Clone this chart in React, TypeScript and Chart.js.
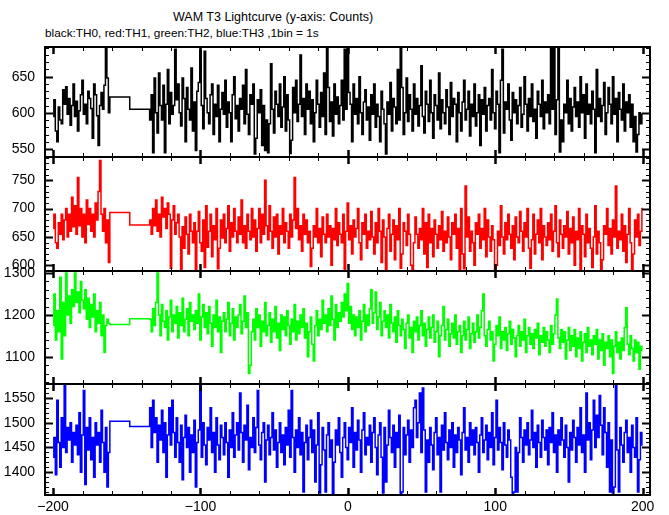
import React, { useEffect, useRef } from 'react';
import { Chart, registerables } from 'chart.js';
Chart.register(...registerables);

// time grid (1 bin = 1 s)
const earlyStart = -200;
const lateStart = -134;
const gapTimes = [-161, -135];
const xTickValues = [-200, -100, 0, 100, 200];

// TH0 (black)
const th0Early = [
  595, 618, 575, 560, 608, 590, 585, 632, 612, 636,
  598, 620, 583, 610, 640, 595, 616, 575, 603, 625,
  645, 598, 612, 585, 630, 620, 606, 565, 640, 625,
  596, 555, 610, 628, 605, 638, 690, 648, 600,
];
const th0Gap = [622, 605];
const th0Late = [
  590, 625, 545, 648, 600, 572, 655, 610, 590, 638,
  545, 612, 660, 585, 628, 598, 610, 688, 618, 640,
  600, 582, 648, 620, 560, 635, 605, 590, 662, 575,
  615, 548, 630, 642, 686, 610, 578, 685, 620, 600,
  585, 625, 640, 570, 612, 595, 638, 560, 605, 628,
  598, 645, 580, 615, 600, 560, 625, 650, 592, 610,
  575, 620, 605, 638, 585, 660, 598, 570, 625, 612,
  640, 543, 565, 618, 600, 632, 555, 610, 548, 590,
  545, 585, 668, 605, 572, 630, 612, 595, 640, 580,
  608, 650, 575, 625, 590, 544, 562, 635, 600, 645,
  588, 612, 680, 595, 620, 570, 640, 605, 630, 585,
  618, 560, 600, 645, 612, 580, 628, 595, 655, 570,
  690, 635, 588, 615, 568, 640, 598, 622, 585, 610,
  645, 590, 688, 605, 692, 628, 612, 560, 640, 598,
  620, 585, 650, 600, 570, 615, 632, 590, 608, 562,
  625, 598, 640, 580, 612, 595, 560, 630, 605, 585,
  543, 615, 598, 642, 575, 620, 608, 585, 660, 590,
  689, 635, 570, 600, 648, 588, 625, 605, 575, 640,
  598, 620, 582, 610, 665, 595, 572, 630, 612, 588,
  645, 600, 565, 625, 610, 590, 655, 578, 618, 600,
  585, 632, 608, 570, 642, 595, 620, 612, 560, 628,
  600, 575, 615, 645, 590, 605, 630, 568, 612, 595,
  640, 582, 600, 625, 555, 618, 598, 635, 575, 610,
  620, 590, 660, 600, 578, 630, 612, 545, 645, 688,
  572, 615, 605, 640, 590, 562, 628, 600, 618, 585,
  610, 635, 580, 598, 650, 612, 575, 620, 595, 640,
  588, 605, 565, 630, 612, 595, 645, 578, 615, 600,
  625, 585, 690, 605, 690, 570, 618, 692, 546, 590,
  560, 612, 600, 645, 585, 620, 575, 608, 635, 595,
  615, 580, 650, 600, 625, 565, 640, 598, 612, 585,
  630, 605, 545, 660, 595, 620, 588, 610, 642, 570,
  600, 635, 612, 585, 650, 598, 620, 560, 628, 605,
  590, 640, 575, 615, 600, 625, 580, 612, 560, 595,
  546, 570, 600, 585, 598,
];
const th0Ticks = [550, 600, 650];

// TH1 (red)
const th1Early = [
  665, 690, 640, 630, 675, 655, 690, 645, 680, 700,
  650, 690, 660, 720, 668, 705, 655, 755, 670, 700,
  650, 690, 640, 715, 672, 700, 660, 690, 650, 710,
  680, 730, 785, 690, 660, 700, 640, 680, 605,
];
const th1Gap = [693, 671];
const th1Late = [
  680, 655, 700, 670, 715, 660, 690, 650, 720, 685,
  700, 665, 710, 690, 595, 680, 705, 655, 675, 690,
  650, 592, 668, 630, 685, 655, 620, 690, 660, 640,
  675, 593, 660, 695, 640, 625, 680, 596, 705, 632,
  660, 690, 615, 670, 645, 700, 594, 630, 680, 648,
  690, 640, 665, 705, 625, 675, 650, 700, 660, 640,
  685, 655, 715, 640, 670, 630, 690, 660, 645, 700,
  650, 680, 625, 665, 700, 640, 690, 655, 750, 670,
  645, 705, 660, 630, 685, 650, 690, 620, 670, 655,
  700, 640, 675, 660, 630, 690, 650, 680, 755, 665,
  700, 645, 670, 625, 690, 655, 680, 640, 660, 598,
  630, 670, 650, 700, 640, 665, 615, 685, 655, 640,
  690, 650, 670, 600, 665, 645, 700, 635, 675, 655,
  640, 690, 592, 660, 710, 645, 670, 620, 680, 650,
  665, 700, 640, 610, 675, 655, 690, 630, 660, 645,
  695, 650, 620, 675, 640, 700, 660, 605, 680, 650,
  593, 665, 690, 625, 655, 680, 610, 670, 645, 700,
  595, 620, 675, 660, 635, 690, 655, 600, 592, 640,
  685, 655, 630, 665, 645, 700, 620, 675, 596, 690,
  640, 665, 615, 680, 655, 630, 670, 645, 695, 625,
  660, 640, 685, 650, 610, 675, 655, 690, 630, 665,
  592, 700, 620, 594, 740, 650, 685, 625, 660, 640,
  600, 675, 655, 690, 630, 665, 645, 700, 615, 680,
  650, 625, 670, 645, 593, 600, 660, 635, 705, 650,
  620, 675, 645, 690, 655, 630, 670, 610, 685, 650,
  640, 695, 660, 625, 675, 650, 700, 630, 595, 645,
  690, 620, 655, 680, 640, 700, 610, 670, 650, 635,
  675, 645, 690, 625, 660, 705, 640, 615, 680, 655,
  630, 670, 650, 695, 620, 665, 640, 685, 600, 660,
  645, 700, 592, 670, 655, 615, 690, 640, 665, 630,
  596, 650, 705, 620, 660, 640, 593, 610, 670, 655,
  700, 635, 665, 620, 680, 650, 740, 630, 660, 645,
  690, 625, 670, 605, 655, 700, 640, 592, 620, 680,
  650, 690, 635, 660, 700,
];
const th1Ticks = [600, 650, 700, 750];

// TH2 (green)
const th2Early = [
  1175, 1250, 1140, 1210, 1160, 1290, 1095, 1230, 1150, 1300,
  1200, 1245, 1180, 1260, 1220, 1300, 1230, 1255, 1205, 1280,
  1235, 1215, 1260, 1190, 1240, 1170, 1225, 1195, 1250, 1160,
  1210, 1180, 1230, 1150, 1200, 1110, 1175, 1190, 1180,
];
const th2Gap = [1177, 1191];
const th2Late = [
  1190, 1160, 1215, 1175, 1230, 1300, 1200, 1150, 1225, 1185,
  1170, 1210, 1140, 1195, 1235, 1160, 1200, 1180, 1220, 1145,
  1205, 1175, 1240, 1160, 1190, 1215, 1150, 1230, 1185, 1200,
  1165, 1210, 1180, 1250, 1140, 1195, 1225, 1170, 1205, 1155,
  1220, 1180, 1125, 1200, 1170, 1235, 1160, 1195, 1110, 1185,
  1205, 1160, 1190, 1230, 1150, 1180, 1215, 1140, 1195, 1170,
  1200, 1225, 1155, 1185, 1245, 1170, 1205, 1060, 1080, 1160,
  1190, 1140, 1215, 1170, 1200, 1125, 1185, 1160, 1230, 1150,
  1175, 1205, 1135, 1190, 1160, 1220, 1145, 1180, 1115, 1200,
  1165, 1195, 1150, 1210, 1175, 1130, 1190, 1160, 1225, 1140,
  1185, 1155, 1200, 1170, 1215, 1145, 1180, 1100, 1160, 1195,
  1130, 1090, 1175, 1210, 1150, 1190, 1165, 1235, 1180, 1200,
  1160, 1215, 1175, 1245, 1190, 1140, 1225, 1170, 1205, 1185,
  1230, 1195, 1250, 1210, 1275, 1180, 1220, 1165, 1200, 1150,
  1195, 1170, 1210, 1140, 1185, 1225, 1160, 1200, 1175, 1215,
  1260, 1180, 1205, 1255, 1165, 1195, 1230, 1150, 1185, 1210,
  1170, 1200, 1145, 1225, 1180, 1160, 1195, 1135, 1210, 1175,
  1150, 1190, 1165, 1120, 1180, 1200, 1145, 1170, 1110, 1185,
  1160, 1195, 1140, 1175, 1210, 1150, 1180, 1125, 1165, 1195,
  1145, 1170, 1200, 1135, 1160, 1185, 1100, 1150, 1175, 1220,
  1140, 1165, 1190, 1125, 1155, 1180, 1145, 1200, 1130, 1160,
  1175, 1110, 1150, 1185, 1140, 1165, 1195, 1120, 1155, 1180,
  1135, 1160, 1200, 1145, 1170, 1210, 1250, 1150, 1125, 1165,
  1185, 1140, 1160, 1090, 1130, 1175, 1150, 1195, 1120, 1160,
  1140, 1170, 1115, 1155, 1185, 1130, 1165, 1145, 1100, 1150,
  1175, 1125, 1160, 1140, 1190, 1110, 1150, 1170, 1130, 1155,
  1120, 1165, 1145, 1180, 1105, 1150, 1135, 1170, 1125, 1160,
  1140, 1110, 1175, 1130, 1155, 1200, 1238, 1145, 1120, 1165,
  1135, 1160, 1095, 1140, 1170, 1115, 1150, 1125, 1165, 1100,
  1145, 1120, 1160, 1090, 1135, 1155, 1110, 1170, 1125, 1140,
  1105, 1150, 1130, 1165, 1095, 1140, 1115, 1155, 1080, 1135,
  1120, 1150, 1100, 1140, 1060, 1125, 1160, 1110, 1135, 1095,
  1145, 1115, 1170, 1217, 1130, 1105, 1150, 1120, 1090, 1140,
  1110, 1135, 1070, 1125, 1115,
];
const th2Ticks = [1100, 1200, 1300];

// TH3 (blue)
const th3Early = [
  1430, 1470, 1395, 1545, 1460, 1410, 1510, 1450, 1575, 1440,
  1490, 1465, 1500, 1420, 1480, 1455, 1495, 1435, 1520, 1400,
  1475, 1565, 1375, 1490, 1445, 1510, 1425, 1470, 1390, 1500,
  1455, 1480, 1420, 1525, 1460, 1400, 1490, 1370, 1440,
];
const th3Gap = [1503, 1492];
const th3Late = [
  1530, 1450, 1545, 1480, 1510, 1420, 1495, 1465, 1525, 1440,
  1500, 1390, 1475, 1530, 1455, 1545, 1480, 1430, 1510, 1460,
  1420, 1495, 1385, 1470, 1515, 1450, 1490, 1400, 1475, 1440,
  1505, 1370, 1460, 1485, 1575, 1430, 1500, 1455, 1415, 1490,
  1465, 1530, 1440, 1480, 1400, 1510, 1455, 1425, 1495, 1470,
  1435, 1500, 1460, 1390, 1485, 1450, 1520, 1430, 1475, 1500,
  1445, 1560, 1480, 1420, 1495, 1465, 1535, 1405, 1470, 1450,
  1510, 1440, 1490, 1565, 1455, 1425, 1480, 1500, 1380, 1465,
  1495, 1435, 1470, 1520, 1445, 1485, 1410, 1460, 1500, 1440,
  1475, 1415, 1490, 1455, 1525, 1430, 1565, 1470, 1400, 1485,
  1450, 1510, 1435, 1480, 1360, 1460, 1495, 1425, 1470, 1505,
  1440, 1485, 1380, 1455, 1520, 1358, 1415, 1490, 1445, 1360,
  1475, 1500, 1430, 1465, 1356, 1420, 1485, 1455, 1510, 1440,
  1390, 1470, 1500, 1450, 1425, 1490, 1460, 1530, 1410, 1480,
  1445, 1505, 1465, 1400, 1485, 1520, 1435, 1470, 1455, 1495,
  1420, 1480, 1510, 1450, 1395, 1475, 1500, 1430, 1358, 1490,
  1380, 1455, 1525, 1470, 1440, 1495, 1410, 1480, 1450, 1515,
  1356, 1360, 1490, 1435, 1475, 1505, 1420, 1485, 1450, 1530,
  1545, 1470, 1500, 1560, 1440, 1570, 1485, 1360, 1465, 1420,
  1490, 1455, 1405, 1480, 1510, 1435, 1470, 1360, 1495, 1445,
  1520, 1460, 1425, 1485, 1450, 1500, 1410, 1475, 1440, 1490,
  1465, 1395, 1480, 1530, 1445, 1470, 1420, 1500, 1455, 1485,
  1435, 1490, 1460, 1400, 1475, 1510, 1440, 1465, 1495, 1425,
  1480, 1450, 1520, 1415, 1470, 1545, 1445, 1490, 1460, 1405,
  1500, 1455, 1430, 1485, 1465, 1390, 1356, 1360, 1450, 1360,
  1440, 1510, 1470, 1420, 1485, 1455, 1500, 1435, 1465, 1525,
  1450, 1480, 1410, 1495, 1460, 1430, 1505, 1470, 1445, 1485,
  1415, 1490, 1460, 1520, 1440, 1475, 1400, 1485, 1455, 1510,
  1465, 1430, 1495, 1450, 1380, 1480, 1445, 1505, 1470, 1420,
  1490, 1455, 1530, 1440, 1475, 1400, 1560, 1465, 1500, 1425,
  1485, 1545, 1450, 1515, 1470, 1555, 1495, 1435, 1530, 1480,
  1410, 1500, 1360, 1465, 1358, 1370, 1575, 1445, 1360, 1490,
  1455, 1420, 1480, 1505, 1440, 1470, 1400, 1495, 1450, 1430,
  1510, 1360, 1425, 1480, 1455,
];
const th3Ticks = [1400, 1450, 1500, 1550];

const FONT = "'Liberation Sans', Arial, Helvetica, sans-serif";

const panels = [
  { color: '#000000', early: th0Early, gap: th0Gap, late: th0Late, ticks: th0Ticks, min: 539, max: 691, minor: 10, top: 47, bottom: 157 },
  { color: '#ff0000', early: th1Early, gap: th1Gap, late: th1Late, ticks: th1Ticks, min: 590, max: 791, minor: 10, top: 157, bottom: 271 },
  { color: '#00ff00', early: th2Early, gap: th2Gap, late: th2Late, ticks: th2Ticks, min: 1035, max: 1305, minor: 20, top: 271, bottom: 384 },
  { color: '#0000ff', early: th3Early, gap: th3Gap, late: th3Late, ticks: th3Ticks, min: 1354, max: 1578, minor: 10, top: 384, bottom: 495 },
];

const PAD = 12;
const X_AXIS_H = 22;

function framePlugin(minor: number) {
  return {
    id: 'frame',
    afterDraw(chart: any) {
      const { ctx, chartArea: a } = chart;
      const x = chart.scales.x;
      const y = chart.scales.y;
      ctx.save();
      ctx.strokeStyle = '#000';
      const seg = (x1: number, y1: number, x2: number, y2: number, w: number) => {
        ctx.lineWidth = w;
        ctx.beginPath();
        ctx.moveTo(x1, y1);
        ctx.lineTo(x2, y2);
        ctx.stroke();
      };
      for (let v = -200; v <= 200; v += 20) {
        const p = Math.round(x.getPixelForValue(v)) + 0.5;
        const maj = v % 100 === 0;
        const len = maj ? 7 : 4;
        const w = maj ? 2.5 : 1;
        seg(p, a.top, p, a.top + len, w);
        seg(p, a.bottom, p, a.bottom - len, w);
      }
      const start = Math.ceil(y.min / minor) * minor;
      for (let v = start; v <= y.max; v += minor) {
        const p = Math.round(y.getPixelForValue(v)) + 0.5;
        const maj = y.ticks.some((t: any) => t.value === v);
        const len = maj ? 8 : 4;
        const w = maj ? 2 : 1;
        seg(a.left, p, a.left + len, p, w);
        seg(a.right, p, a.right - len, p, w);
      }
      ctx.lineWidth = 2;
      ctx.strokeRect(a.left, a.top, a.right - a.left, a.bottom - a.top);
      ctx.restore();
    },
  };
}

function fmt(v: number) {
  return v < 0 ? '\u2212' + Math.abs(v) : String(v);
}

export default function App() {
  const refs = useRef<(HTMLCanvasElement | null)[]>([]);

  useEffect(() => {
    document.body.style.margin = '0';
    const charts: Chart[] = [];
    panels.forEach((p, i) => {
      const canvas = refs.current[i];
      if (!canvas) return;
      const last = i === panels.length - 1;
      const pts = [
        ...p.early.map((v, k) => ({ x: earlyStart + k, y: v })),
        ...p.gap.map((v, k) => ({ x: gapTimes[k], y: v })),
        ...p.late.map((v, k) => ({ x: lateStart + k, y: v })),
      ];
      const xScale: any = {
        type: 'linear',
        min: -205.5,
        max: 205,
        display: last,
        grid: { display: false, drawTicks: false },
        border: { display: false },
        ticks: {
          padding: 4,
          color: '#000',
          font: { family: FONT, size: 14 },
          maxRotation: 0,
          autoSkip: false,
          callback: (v: any) => fmt(Number(v)),
        },
        afterBuildTicks: (s: any) => {
          s.ticks = xTickValues.map((v) => ({ value: v }));
        },
        afterFit: (s: any) => {
          if (last) s.height = X_AXIS_H;
          s.paddingLeft = 0;
          s.paddingRight = 0;
          s.paddingTop = 0;
          s.paddingBottom = 0;
        },
      };
      const chart = new Chart(canvas, {
        type: 'line',
        data: {
          datasets: [
            {
              data: pts,
              borderColor: p.color,
              borderWidth: 1.5,
              pointRadius: 0,
              stepped: 'middle',
              fill: false,
              tension: 0,
            } as any,
          ],
        },
        options: {
          animation: false,
          responsive: false,
          events: [],
          layout: { padding: { top: PAD, bottom: last ? 0 : PAD, left: 0, right: 19 } },
          plugins: {
            legend: { display: false },
            tooltip: { enabled: false },
            title: { display: false },
          },
          scales: {
            x: xScale,
            y: {
              type: 'linear',
              min: p.min,
              max: p.max,
              grid: { display: false, drawTicks: false },
              border: { display: false },
              ticks: {
                padding: 10,
                color: '#000',
                font: { family: FONT, size: 14 },
                autoSkip: false,
                callback: (v: any) => String(v),
              },
              afterBuildTicks: (s: any) => {
                s.ticks = p.ticks.map((v) => ({ value: v }));
              },
              afterFit: (s: any) => {
                s.width = 45;
                s.paddingTop = 0;
                s.paddingBottom = 0;
                s.paddingLeft = 0;
                s.paddingRight = 0;
              },
            } as any,
          },
        },
        plugins: [framePlugin(p.minor)],
      });
      charts.push(chart);
    });
    return () => charts.forEach((c) => c.destroy());
  }, []);

  return (
    <div style={{ position: 'relative', width: 669, height: 515, background: '#fff', overflow: 'hidden' }}>
      <div
        style={{
          position: 'absolute',
          left: 173,
          top: 11,
          font: `12.5px ${FONT}`,
          lineHeight: '13px',
          whiteSpace: 'nowrap',
          color: '#000',
        }}
      >
        WAM T3 Lightcurve (y-axis: Counts)
      </div>
      <div
        style={{
          position: 'absolute',
          left: 45,
          top: 27,
          font: `11.8px ${FONT}`,
          lineHeight: '13px',
          whiteSpace: 'nowrap',
          color: '#000',
        }}
      >
        black:TH0, red:TH1, green:TH2, blue:TH3 ,1bin = 1s
      </div>
      {panels.map((p, i) => {
        const last = i === panels.length - 1;
        const top = p.top - PAD;
        const h = p.bottom - p.top + PAD + (last ? X_AXIS_H : PAD);
        return (
          <canvas
            key={i}
            ref={(el) => {
              refs.current[i] = el;
            }}
            width={669}
            height={h}
            style={{ position: 'absolute', left: 0, top, width: 669, height: h }}
          />
        );
      })}
    </div>
  );
}
